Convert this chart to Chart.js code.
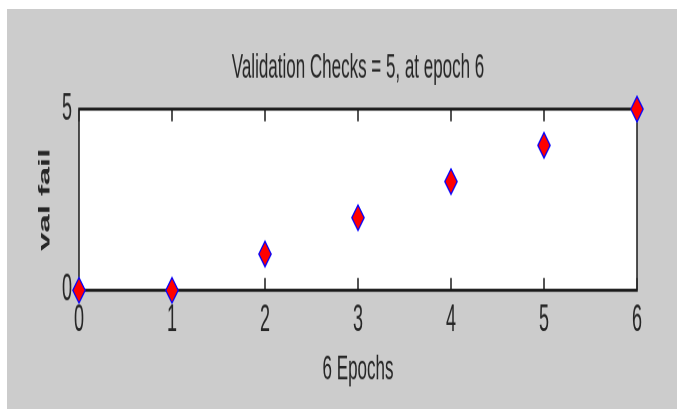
<!DOCTYPE html>
<html>
<head>
<meta charset="utf-8">
<script src="https://cdn.jsdelivr.net/npm/chart.js@4.4.1/dist/chart.umd.min.js"></script>
<style>
  html, body { margin: 0; padding: 0; background: #ffffff; width: 677px; height: 409px; overflow: hidden; }
  #wrap { position: absolute; left: 7px; top: 9px; width: 670px; height: 400px; background: #cccccc; }
  /* the figure is drawn at 670x195 and stretched to 400px tall, like the original */
  #chart { width: 670px; height: 400px; }
</style>
</head>
<body>
<div id="wrap"><canvas id="chart" width="670" height="195" style="width:670px;height:400px"></canvas></div>
<script>
const epochs = [0, 1, 2, 3, 4, 5, 6];
const valFail = [0, 0, 1, 2, 3, 4, 5];
const xTicks = [0, 1, 2, 3, 4, 5, 6];
const yTicks = [0, 5];

const fontFamily = "'Liberation Sans', Arial, sans-serif";
const textColor = '#262626';

// white axes box, black frame, ticks pointing inwards
const framePlugin = {
  id: 'frame',
  beforeDraw(chart) {
    const { ctx, chartArea: a } = chart;
    ctx.save();
    ctx.fillStyle = '#ffffff';
    ctx.fillRect(a.left, a.top, a.right - a.left, a.bottom - a.top);
    ctx.restore();
  },
  beforeDatasetsDraw(chart) {
    const { ctx, chartArea: a, scales } = chart;
    ctx.save();
    ctx.strokeStyle = '#1a1a1a';
    ctx.lineWidth = 1.5;
    ctx.beginPath();
    scales.x.ticks.forEach(t => {
      const px = scales.x.getPixelForValue(t.value);
      ctx.moveTo(px, a.bottom);
      ctx.lineTo(px, a.bottom - 6);
      ctx.moveTo(px, a.top);
      ctx.lineTo(px, a.top + 6);
    });
    ctx.stroke();
    ctx.strokeRect(a.left, a.top, a.right - a.left, a.bottom - a.top);
    ctx.restore();
  }
};

new Chart(document.getElementById('chart'), {
  type: 'scatter',
  data: {
    datasets: [{
      label: 'val fail',
      data: epochs.map((e, i) => ({ x: e, y: valFail[i] })),
      pointStyle: 'rectRot',
      pointRadius: 6.2,
      pointHoverRadius: 6.2,
      backgroundColor: '#ff0000',
      borderColor: '#0000ff',
      borderWidth: 1,
      clip: false
    }]
  },
  options: {
    responsive: false,
    devicePixelRatio: 2,
    animation: false,
    // left padding + empty right axis keep the title centred over the axes box
    layout: { padding: { left: 32, right: 0, top: 0, bottom: 0 } },
    plugins: {
      legend: { display: false },
      tooltip: { enabled: false },
      title: {
        display: true,
        text: 'Validation Checks = 5, at epoch 6',
        color: textColor,
        font: { family: fontFamily, size: 17, weight: 'normal' },
        padding: { top: 18.6, bottom: 9.8 }
      }
    },
    scales: {
      x: {
        type: 'linear',
        min: 0,
        max: 6,
        grid: { display: false, drawTicks: false },
        border: { display: false },
        afterBuildTicks: s => { s.ticks = xTicks.map(v => ({ value: v })); },
        afterFit: s => { s.height = 57.9; },
        ticks: {
          color: textColor,
          padding: 4,
          maxRotation: 0,
          font: { family: fontFamily, size: 18 }
        },
        title: {
          display: true,
          text: '6 Epochs',
          color: textColor,
          font: { family: fontFamily, size: 17 },
          padding: { top: 0, bottom: 8.8 }
        }
      },
      y: {
        type: 'linear',
        min: 0,
        max: 5,
        grid: { display: false, drawTicks: false },
        border: { display: false },
        afterBuildTicks: s => { s.ticks = yTicks.map(v => ({ value: v })); },
        afterFit: s => { s.width = 40; },
        ticks: {
          color: textColor,
          padding: 7,
          font: { family: fontFamily, size: 18 }
        },
        title: {
          display: true,
          text: 'val fail',
          color: textColor,
          font: { family: fontFamily, size: 16, weight: 'bold' },
          padding: { top: -3.6, bottom: 0 }
        }
      },
      yRight: {
        type: 'linear',
        position: 'right',
        min: 0,
        max: 5,
        grid: { display: false, drawTicks: false },
        border: { display: false },
        ticks: { display: false },
        afterFit: s => { s.width = 40; }
      }
    }
  },
  plugins: [framePlugin]
});
</script>
</body>
</html>
